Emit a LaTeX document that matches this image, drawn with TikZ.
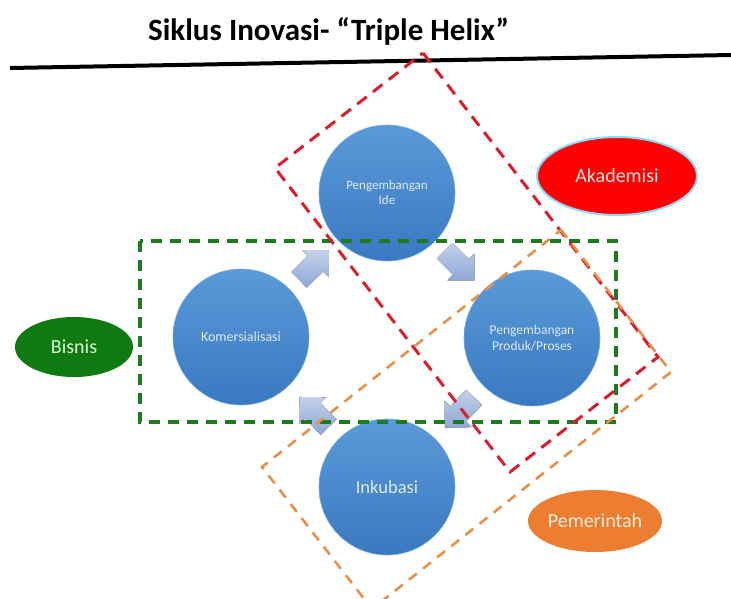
\documentclass[tikz,border=0pt]{standalone}
\usepackage{fontspec}
\setmainfont{Carlito}
\usetikzlibrary{calc,shapes.geometric}
\definecolor{circtop}{HTML}{5A9AD8}
\definecolor{circbot}{HTML}{3A78C0}
\definecolor{circtext}{HTML}{DCE9F7}
\definecolor{arrtop}{HTML}{C3D1EA}
\definecolor{arrbot}{HTML}{8FA8D6}
\definecolor{dgreen}{HTML}{1E7A1E}
\definecolor{dred}{HTML}{D8202C}
\definecolor{dorange}{HTML}{E8904A}
\definecolor{bisfill}{HTML}{0E7A10}
\definecolor{pemfill}{HTML}{ED7D31}
\tikzset{
  circ/.style={circle, minimum size=136, inner sep=0pt, top color=circtop, bottom color=circbot,
    draw=circtop!80!white, line width=0.6, text=circtext, align=center},
  role/.style={ellipse, inner sep=0pt, font=\fontsize{20}{24}\selectfont},
  blockarrow/.pic={\fill[top color=arrtop, bottom color=arrbot]
    (-21,-11) -- (2,-11) -- (2,-19) -- (21,0) -- (2,19) -- (2,11) -- (-21,11) -- cycle;},
  reddash/.style={draw=dred, line width=3, dash pattern=on 12 off 8},
  greendash/.style={draw=dgreen, line width=3.2, dash pattern=on 11 off 8},
  orangedash/.style={draw=dorange, line width=2.6, dash pattern=on 10 off 8},
}
\begin{document}
\begin{tikzpicture}[x=1pt, y=-1pt]
\useasboundingbox (0,0) rectangle (731,598);
% title and rule
\node[anchor=base west, inner sep=0pt, font=\fontsize{31}{36}\selectfont\bfseries] (title) at (148,40) {Siklus Inovasi- “Triple Helix”};
\coordinate (ruleL) at (10,68);
\coordinate (ruleR) at (731,55);
\draw[line width=4] (ruleL) -- (ruleR);
% circles
\node[circ, font=\fontsize{13}{15}\selectfont] (ide) at (387,193) {Pengembangan\\Ide};
\node[circ, font=\fontsize{14}{16}\selectfont] (kom) at (241,337) {Komersialisasi};
\node[circ, font=\fontsize{13.5}{16}\selectfont] (prod) at (532,338) {Pengembangan\\Produk/Proses};
\node[circ, font=\fontsize{18.5}{22}\selectfont] (ink) at (387,487) {Inkubasi};
% block arrows between circles
\path let \p1=($(ide)-(kom)$), \n1={atan2(\y1,\x1)} in ($(kom)!0.5!(ide)$) pic[rotate=\n1] {blockarrow};
\path let \p1=($(prod)-(ide)$), \n1={atan2(\y1,\x1)} in ($(ide)!0.5!(prod)$) pic[rotate=\n1] {blockarrow};
\path let \p1=($(ink)-(prod)$), \n1={atan2(\y1,\x1)} in ($(prod)!0.5!(ink)$) pic[rotate=\n1] {blockarrow};
\path let \p1=($(kom)-(ink)$), \n1={atan2(\y1,\x1)} in ($(ink)!0.5!(kom)$) pic[rotate=\n1] {blockarrow};
% role ellipses
\node[role, minimum width=160, minimum height=78, fill=red, draw=cyan!45!white, line width=2, text=red!12!white] (akad) at (617,176) {Akademisi};
\node[role, minimum width=118, minimum height=60, fill=bisfill, text=green!15!white] (bis) at (74,347) {Bisnis};
\node[role, minimum width=134, minimum height=62, fill=pemfill, text=orange!12!white] (pem) at (595,521) {Pemerintah};
% dashed regions
\coordinate (gTL) at (140,241);
\coordinate (gBR) at (616,422);
\draw[greendash] (gTL) rectangle (gBR);
\coordinate (rT) at (423,53);
\coordinate (rR) at (658,357);
\coordinate (rB) at (510,472);
\coordinate (rL) at (275,168);
\draw[reddash] (rT) -- (rR) -- (rB) -- (rL) -- cycle;
\coordinate (oT) at (561,230);
\coordinate (oR) at (671,372);
\coordinate (oB) at (372,609);
\coordinate (oL) at (262,467);
\draw[orangedash] (oT) -- (oR) -- (oB) -- (oL) -- cycle;
\end{tikzpicture}
\end{document}
